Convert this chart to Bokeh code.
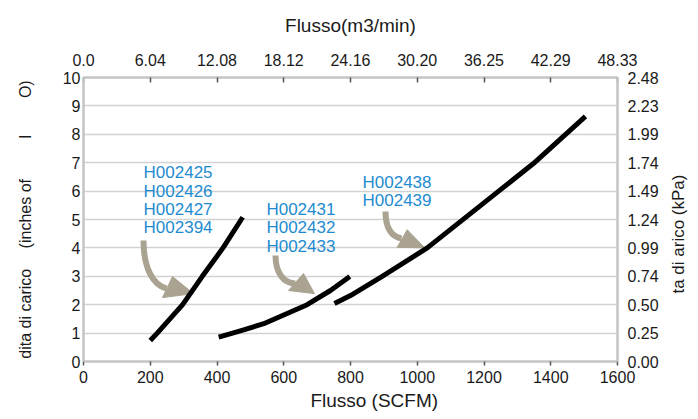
import math
from bokeh.plotting import figure
from bokeh.layouts import row
from bokeh.models import LinearAxis, FixedTicker, Range1d, ColumnDataSource
from bokeh.core.properties import value
from bokeh.embed import file_html
from bokeh.resources import INLINE

# ---- data ----
x_ticks = [0, 200, 400, 600, 800, 1000, 1200, 1400, 1600]
top_tick_labels = ["0.0", "6.04", "12.08", "18.12", "24.16", "30.20", "36.25", "42.29", "48.33"]
y_ticks = [0, 1, 2, 3, 4, 5, 6, 7, 8, 9, 10]
right_tick_labels = ["0.00", "0.25", "0.50", "0.74", "0.99", "1.24", "1.49", "1.74", "1.99", "2.23", "2.48"]

curve1_x = [200, 221, 297, 356, 418, 477]
curve1_y = [0.74, 1.0, 2.0, 3.0, 4.0, 5.08]
curve2_x = [405, 470, 540, 670, 740, 798]
curve2_y = [0.86, 1.08, 1.33, 2.0, 2.5, 2.99]
curve3_x = [752, 800, 895, 1030, 1180, 1348, 1504]
curve3_y = [2.04, 2.32, 3.0, 4.0, 5.4, 6.97, 8.63]

label_text = ["H002425", "H002426", "H002427", "H002394",
              "H002431", "H002432", "H002433",
              "H002438", "H002439"]
label_x = [180, 180, 180, 180, 548, 548, 548, 836, 836]
label_y = [6.67, 6.0, 5.35, 4.71, 5.34, 4.71, 4.05, 6.29, 5.67]

# curved arrows (shaft as bezier, head as triangle)
arrow_x0 = [179.8, 575.3, 904.9]
arrow_y0 = [4.26, 3.73, 5.28]
arrow_cx0 = [179.8, 575.3, 904.9]
arrow_cy0 = [3.27, 3.13, 4.72]
arrow_cx1 = [209.7, 599.3, 922.8]
arrow_cy1 = [2.68, 2.75, 4.40]
arrow_x1 = [248.7, 635.2, 952.8]
arrow_y1 = [2.57, 2.75, 4.33]
head_xs = [[266.7, 236.7, 329.6], [659.2, 614.2, 692.1], [969.9, 939.9, 1022.6]]
head_ys = [[2.99, 2.25, 2.39], [3.10, 2.50, 2.39], [4.64, 4.02, 4.00]]

EM = "\u2003"
EN = "\u2002"
bottom_title = EM + EM + EN + "Flusso (SCFM)"
top_title = "Flusso(m3/min)"
left_title = ("dita di carico" + EM + " " + "(inches of" + EM + EM + EN
              + "I" + EM + EM + " " + "O)")
right_title = ["ta di arico (kPa)"]

FONT = "Liberation Sans"
BLUE = "#1e8bd0"
ARROW = "#aaa391"
AXIS_GRAY = "#c4c4c4"

p = figure(width=664, height=419, x_range=Range1d(0, 1600), y_range=Range1d(0, 10),
           output_backend="svg", toolbar_location=None,
           min_border_left=83, min_border_right=47, min_border_top=77, min_border_bottom=58)
p.outline_line_color = None
p.background_fill_color = "white"
p.border_fill_color = "white"

p.xgrid.visible = False
p.ygrid.ticker = FixedTicker(ticks=y_ticks)
p.ygrid.grid_line_color = "#d2d2d2"
p.ygrid.grid_line_width = 1.5

def style(ax):
    ax.axis_line_color = AXIS_GRAY
    ax.axis_line_width = 2.5
    ax.major_label_text_font = FONT
    ax.major_label_text_font_size = "16px"
    ax.major_label_text_color = "#1a1a1a"
    ax.minor_tick_line_color = None
    ax.major_tick_line_color = "#555555"
    ax.major_tick_line_width = 1.5
    ax.axis_label_text_font = FONT
    ax.axis_label_text_font_style = "normal"
    ax.axis_label_text_color = "#1a1a1a"

bottom = p.xaxis[0]
bottom.ticker = FixedTicker(ticks=x_ticks)
style(bottom)
bottom.major_tick_out = 4
bottom.major_tick_in = 0
bottom.major_label_standoff = 5
bottom.axis_label = bottom_title
bottom.axis_label_text_font_size = "19px"
bottom.axis_label_standoff = 4

left = p.yaxis[0]
left.ticker = FixedTicker(ticks=y_ticks)
style(left)
left.major_tick_out = 0
left.major_tick_in = 0
left.major_label_standoff = 3
left.axis_label = left_title
left.axis_label_text_font_size = "16px"
left.axis_label_standoff = 26

top = LinearAxis(ticker=FixedTicker(ticks=x_ticks),
                 major_label_overrides=dict(zip(x_ticks, top_tick_labels)))
style(top)
top.major_tick_out = 0
top.major_tick_in = 5
top.major_label_standoff = 12
top.axis_label = top_title
top.axis_label_text_font_size = "19px"
top.axis_label_standoff = 15
p.add_layout(top, "above")

right = LinearAxis(ticker=FixedTicker(ticks=y_ticks),
                   major_label_overrides=dict(zip(y_ticks, right_tick_labels)))
style(right)
right.major_tick_out = 0
right.major_tick_in = 0
right.major_label_standoff = 10
p.add_layout(right, "right")

# arrows
p.bezier(x0=arrow_x0, y0=arrow_y0, x1=arrow_x1, y1=arrow_y1,
         cx0=arrow_cx0, cy0=arrow_cy0, cx1=arrow_cx1, cy1=arrow_cy1,
         line_color=ARROW, line_width=6)
p.patches(xs=head_xs, ys=head_ys, fill_color=ARROW, line_color=ARROW, line_width=1)

# curves
for cx, cy in [(curve1_x, curve1_y), (curve2_x, curve2_y), (curve3_x, curve3_y)]:
    p.line(cx, cy, line_color="black", line_width=5, line_join="round")

# blue labels
src = ColumnDataSource(dict(x=label_x, y=label_y, text=label_text))
p.text(x="x", y="y", text="text", source=src, text_color=BLUE,
       text_font=value(FONT), text_font_size="17px",
       text_align="left", text_baseline="middle")

# right-side axis title in a narrow strip (reads bottom-to-top)
q = figure(width=34, height=419, x_range=Range1d(0, 34), y_range=Range1d(0, 419),
           output_backend="svg", toolbar_location=None,
           min_border_left=0, min_border_right=0, min_border_top=0, min_border_bottom=0)
q.axis.visible = False
q.grid.visible = False
q.outline_line_color = None
q.background_fill_color = "white"
q.border_fill_color = "white"
q.text(x=[14], y=[188], text=right_title, angle=math.pi / 2,
       text_color="#1a1a1a", text_font=value(FONT), text_font_size="17px",
       text_align="center", text_baseline="middle")

layout = row(p, q, spacing=0)
open("out.html", "w").write(file_html(layout, INLINE))
